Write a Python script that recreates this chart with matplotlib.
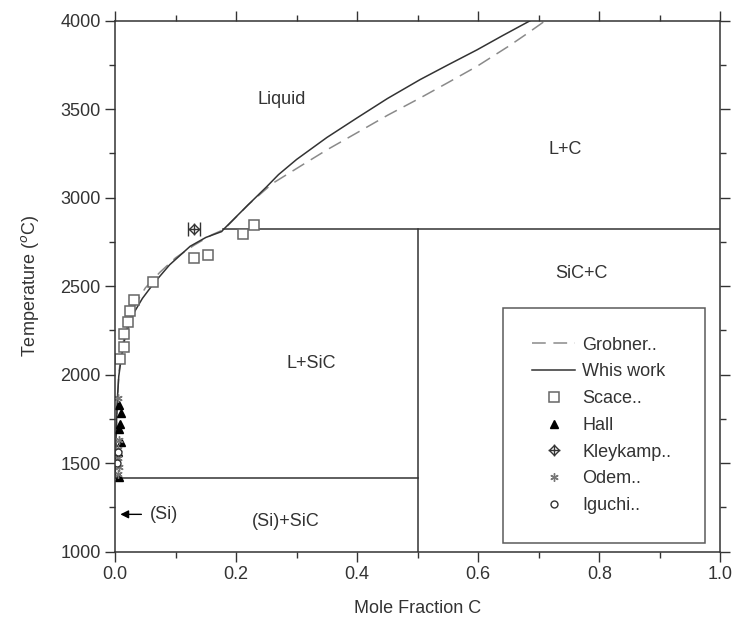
import numpy as np
import matplotlib
matplotlib.use("Agg")
import matplotlib.pyplot as plt
from matplotlib.ticker import MultipleLocator

plt.rcParams['font.family'] = ['Liberation Sans', 'DejaVu Sans']

# liquidus, this work
work_x = [0.0, 0.002, 0.004, 0.006, 0.010, 0.014, 0.020, 0.030, 0.045, 0.063, 0.090, 0.124,
          0.150, 0.176, 0.179, 0.22, 0.25, 0.27, 0.30, 0.35, 0.40, 0.45, 0.504, 0.55, 0.598,
          0.64, 0.686]
work_T = [1414, 1700, 1880, 1990, 2090, 2174, 2250, 2343, 2430, 2512, 2620, 2725,
          2775, 2808, 2820, 2960, 3060, 3130, 3216, 3340, 3451, 3560, 3667, 3750, 3835,
          3915, 4000]

# liquidus, Grobner
grob_x = [0.0, 0.003, 0.006, 0.010, 0.015, 0.022, 0.032, 0.05, 0.074, 0.10, 0.13, 0.16, 0.18,
          0.22, 0.26, 0.311, 0.35, 0.40, 0.45, 0.504, 0.55, 0.598, 0.65, 0.68, 0.711]
grob_T = [1414, 1800, 2000, 2120, 2210, 2300, 2390, 2490, 2578, 2660, 2730, 2790, 2820,
          2960, 3080, 3188, 3270, 3367, 3465, 3563, 3650, 3742, 3855, 3925, 4000]

# invariant lines
peritectic_T = 2820
eutectic_T = 1414
sic_x = 0.5
peri_x = 0.179

# experiments
scace_x = [0.008, 0.014, 0.015, 0.022, 0.025, 0.031, 0.063, 0.131, 0.154, 0.211, 0.230]
scace_T = [2090, 2155, 2230, 2296, 2362, 2422, 2525, 2656, 2677, 2794, 2846]
hall_x = [0.007, 0.010, 0.008, 0.006, 0.009, 0.005, 0.007]
hall_T = [1827, 1780, 1720, 1690, 1620, 1560, 1420]
kley_x = [0.131]
kley_T = [2825]
kley_err = [0.01]
odem_x = [0.004, 0.006, 0.005, 0.004, 0.006, 0.005]
odem_T = [1440, 1480, 1530, 1580, 1630, 1870]
iguchi_x = [0.003, 0.004]
iguchi_T = [1500, 1560]

dark = '#333333'
fs = 13
fig = plt.figure(figsize=(7.38, 6.26), dpi=100)
ax = fig.add_axes([0.156, 0.119, 0.82, 0.848])

ax.plot(grob_x, grob_T, color='#8a8a8a', lw=1.1, dashes=(9, 5), label='Grobner..')
ax.plot(work_x, work_T, color=dark, lw=1.1, label='Whis work')
ax.plot([peri_x, 1.0], [peritectic_T, peritectic_T], color=dark, lw=1.1)
ax.plot([sic_x, sic_x], [1000, peritectic_T], color=dark, lw=1.1)
ax.plot([0, sic_x], [eutectic_T, eutectic_T], color=dark, lw=1.1)

ax.plot(scace_x, scace_T, ls='none', marker='s', ms=7, mfc='white', mec='#666666', mew=1.1,
        label='Scace..')
ax.plot(hall_x, hall_T, ls='none', marker='^', ms=6, color='black', label='Hall')
ax.errorbar(kley_x, kley_T, xerr=kley_err, fmt='none', ecolor=dark, elinewidth=1, capsize=5)
k1, = ax.plot(kley_x, kley_T, ls='none', marker='D', ms=5, mfc='white', mec=dark, mew=1)
k2, = ax.plot(kley_x, kley_T, ls='none', marker='+', ms=8, color=dark, mew=1)
o1, = ax.plot(odem_x, odem_T, ls='none', marker=(6, 2, 0), ms=6, color='#777777', label='Odem..')
i1, = ax.plot(iguchi_x, iguchi_T, ls='none', marker='o', ms=5, mfc='white', mec=dark, label='Iguchi..')

ax.annotate('', xy=(0.004, 1210), xytext=(0.048, 1210),
            arrowprops=dict(arrowstyle='-|>', color='black', lw=1, mutation_scale=12))

txt = dict(color='#333333', fontsize=fs)
ax.text(0.058, 1210, '(Si)', ha='left', va='center', **txt)
ax.text(0.276, 3556, 'Liquid', ha='center', va='center', **txt)
ax.text(0.744, 3274, 'L+C', ha='center', va='center', **txt)
ax.text(0.77, 2570, 'SiC+C', ha='center', va='center', **txt)
ax.text(0.324, 2063, 'L+SiC', ha='center', va='center', **txt)
ax.text(0.282, 1167, '(Si)+SiC', ha='center', va='center', **txt)

handles, labels = ax.get_legend_handles_labels()
handles = handles[:4] + [(k1, k2)] + handles[4:]
labels = labels[:4] + ['Kleykamp..'] + labels[4:]
leg = ax.legend(handles, labels, loc='lower left', bbox_to_anchor=(0.641, 0.016, 0.333, 0.447),
                mode='expand', fancybox=False, frameon=True, fontsize=fs, labelcolor='#333333',
                handlelength=2.4, handletextpad=0.4, borderpad=1.6, labelspacing=0.54,
                borderaxespad=0)
leg.get_frame().set_edgecolor(dark)
leg.get_frame().set_linewidth(1.1)

ax.set_xlim(0, 1.0)
ax.set_ylim(1000, 4000)
ax.xaxis.set_major_locator(MultipleLocator(0.2))
ax.xaxis.set_minor_locator(MultipleLocator(0.1))
ax.yaxis.set_major_locator(MultipleLocator(500))
ax.yaxis.set_minor_locator(MultipleLocator(250))
ax.xaxis.set_major_formatter(matplotlib.ticker.FormatStrFormatter('%.1f'))
ax.tick_params(which='both', direction='out', top=True, right=True, colors=dark,
               labelsize=fs, labelcolor='#333333')
ax.tick_params(which='major', length=7, width=1)
ax.tick_params(which='minor', length=4, width=1)
for s in ax.spines.values():
    s.set_color(dark)
    s.set_linewidth(1.1)

ax.set_xlabel('Mole Fraction C', fontsize=fs, color='#333333', labelpad=12)
ax.set_ylabel('Temperature ($^o$C)', fontsize=fs, color='#333333', labelpad=14)

fig.savefig('out.png', dpi=100)
